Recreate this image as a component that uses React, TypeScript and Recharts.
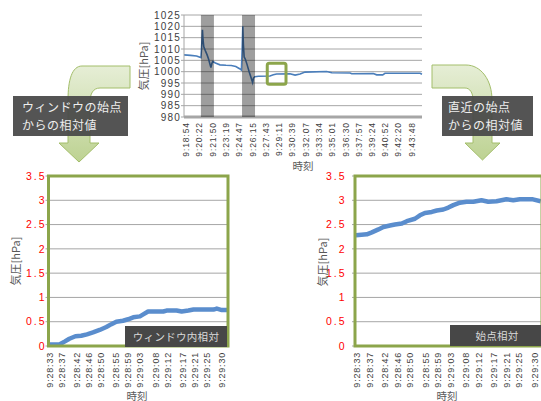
import React from 'react';
import { LineChart, Line, XAxis, YAxis, CartesianGrid, ReferenceArea } from 'recharts';

// ---------- Top chart (overall pressure record) ----------
const topBase = '9:18:54';
const topTickLabels = [
  '9:18:54', '9:20:22', '9:21:50', '9:23:19', '9:24:47', '9:26:15', '9:27:43', '9:29:11', '9:30:39',
  '9:32:07', '9:33:34', '9:35:01', '9:36:30', '9:37:57', '9:39:24', '9:40:52', '9:42:20', '9:43:48',
];
// seconds after 9:18:54
const topSeconds = [
  -13, 30, 70, 99, 103, 109, 113, 118, 128, 140, 150, 158, 165, 171, 177, 195, 225, 265, 300, 330,
  355, 367, 372, 376, 380, 385, 393, 405, 418, 430, 441, 447, 455, 480, 556, 578, 600, 688, 722, 755,
  788, 931, 965, 1086, 1097, 1240, 1262, 1302, 1317, 1549, 1562,
];
const topPressure = [
  1007.4, 1007.2, 1006.9, 1006.2, 1010, 1018.5, 1014, 1011, 1009.3, 1007.4, 1005.5, 1003.5, 1001.8,
  1003.5, 1004.5, 1003.8, 1003.0, 1002.8, 1002.7, 1002.3, 1001.3, 1000.7, 1010, 1020, 1012, 1006.5,
  1005.5, 1003, 1000, 997.5, 995.2, 997.2, 997.8, 998.0, 998.1, 998.6, 999.0, 999.1, 998.5, 999.0,
  999.8, 1000.1, 999.5, 999.4, 999.1, 999.2, 998.6, 998.6, 999.3, 999.3, 998.9,
];
const topYTicks = [980, 985, 990, 995, 1000, 1005, 1010, 1015, 1020, 1025];
// shaded intervals and highlighted window (seconds after 9:18:54 / hPa)
const bandStarts = [99, 371];
const bandEnds = [185, 457];
const windowBox = { x1: 538, x2: 662, y1: 994.4, y2: 1003.7 };

// ---------- Bottom charts (window 9:28:33 - 9:29:32) ----------
const winBase = '9:28:33';
const winTickLabels = [
  '9:28:33', '9:28:37', '9:28:42', '9:28:46', '9:28:50', '9:28:55', '9:28:59',
  '9:29:03', '9:29:08', '9:29:12', '9:29:17', '9:29:21', '9:29:25', '9:29:30',
];
const winLeftSeconds = [
  0, 3.3, 5.0, 6.6, 8.6, 10.5, 12.4, 14.4, 16.6, 18.8, 20.5, 22.1, 24.3, 26.0, 27.7, 29.9, 31.0,
  32.6, 35.4, 37.6, 38.7, 42.0, 43.7, 45.9, 47.6, 54.2, 55.3, 57.0, 58.8,
];
const winLeftValues = [
  0.03, 0.03, 0.09, 0.15, 0.2, 0.21, 0.24, 0.28, 0.33, 0.39, 0.45, 0.5, 0.52, 0.55, 0.59, 0.61, 0.65,
  0.71, 0.71, 0.71, 0.73, 0.73, 0.71, 0.73, 0.75, 0.75, 0.77, 0.74, 0.74,
];
const winRightSeconds = [
  -0.3, 3.2, 4.8, 6.9, 8.5, 10.6, 12.2, 14.4, 16.0, 18.6, 20.2, 21.8, 24.0, 25.6, 27.7, 29.3, 30.9,
  33.0, 35.1, 37.3, 39.9, 42.1, 44.7, 47.9, 50.1, 52.2, 56.4, 58.9,
];
const winRightValues = [
  2.28, 2.3, 2.34, 2.4, 2.45, 2.48, 2.5, 2.52, 2.57, 2.62, 2.69, 2.74, 2.76, 2.79, 2.81, 2.85, 2.9,
  2.95, 2.97, 2.97, 3.0, 2.97, 2.98, 3.02, 3.0, 3.02, 3.02, 2.98,
];
const relYTicks = [0, 0.5, 1, 1.5, 2, 2.5, 3, 3.5];

// ---------- helpers ----------
const toSec = (s: string) => {
  const [h, m, ss] = s.split(':').map(Number);
  return h * 3600 + m * 60 + ss;
};
const pad = (n: number) => (n < 10 ? '0' + n : '' + n);
const fmt = (sec: number) => {
  const v = Math.round(sec);
  const h = Math.floor(v / 3600);
  const m = Math.floor((v % 3600) / 60);
  const s = v % 60;
  return `${h}:${pad(m)}:${pad(s)}`;
};

const topBaseSec = toSec(topBase);
const winBaseSec = toSec(winBase);
const topXTicks = topTickLabels.map((l) => toSec(l) - topBaseSec);
const winXTicks = winTickLabels.map((l) => toSec(l) - winBaseSec);
const topData = topSeconds.map((t, i) => ({ t, p: topPressure[i] }));
const leftData = winLeftSeconds.map((t, i) => ({ t, v: winLeftValues[i] }));
const rightData = winRightSeconds.map((t, i) => ({ t, v: winRightValues[i] }));

const NUM_FONT = '"Liberation Sans", Arial, sans-serif';
const JP_FONT = '"Noto Sans CJK JP", "Noto Sans", sans-serif';
const GREEN = '#8CA54B';
const GRID = '#A6A6A6';

const makeRotTick = (baseSec: number, fontSize: number, ls: number) => (props: any) => {
  const { x, y, payload } = props;
  return (
    <text
      transform={`translate(${x},${y}) rotate(-90)`}
      textAnchor="end"
      dy="0.35em"
      fontSize={fontSize}
      letterSpacing={ls}
      fill="#404040"
      fontFamily={NUM_FONT}
    >
      {fmt(baseSec + payload.value)}
    </text>
  );
};

const makeYTick = (fontSize: number, ls: number, fill: string) => (props: any) => {
  const { x, y, payload } = props;
  return (
    <text x={x} y={y} textAnchor="end" dy="0.36em" fontSize={fontSize} letterSpacing={ls} fill={fill} fontFamily={NUM_FONT}>
      {payload.value}
    </text>
  );
};

const TopChart = () => (
  <LineChart width={300} height={180} data={topData} margin={{ top: 15, right: 8, bottom: 0, left: 0 }}>
    <CartesianGrid vertical={false} stroke={GRID} />
    <XAxis
      dataKey="t"
      type="number"
      domain={[-13, 1562]}
      ticks={topXTicks}
      interval={0}
      height={63}
      tickSize={3}
      tickMargin={2}
      tickLine={false}
      axisLine={{ stroke: GRID, strokeWidth: 3 }}
      tick={makeRotTick(topBaseSec, 8.5, 0.9)}
    />
    <YAxis
      type="number"
      domain={[980, 1025]}
      ticks={topYTicks}
      interval={0}
      width={54}
      tickSize={3}
      tickMargin={0}
      axisLine={{ stroke: GRID }}
      tickLine={{ stroke: GRID }}
      tick={makeYTick(10, 1.2, '#404040')}
    />
    <Line type="linear" dataKey="p" stroke="#4A7EBB" strokeWidth={1.6} dot={false} isAnimationActive={false} />
    {bandStarts.map((s, i) => (
      <ReferenceArea key={i} x1={s} x2={bandEnds[i]} y1={980} y2={1025} fill="#000000" fillOpacity={0.38} stroke="none" zIndex={600} />
    ))}
    <ReferenceArea
      x1={windowBox.x1}
      x2={windowBox.x2}
      y1={windowBox.y1}
      y2={windowBox.y2}
      fill="none"
      stroke={GREEN}
      strokeWidth={3}
      radius={2}
      zIndex={700}
    />
  </LineChart>
);

const WindowChart = ({
  data,
  width,
  right,
  yWidth,
  domain,
  tickMargin,
}: {
  data: { t: number; v: number }[];
  width: number;
  right: number;
  yWidth: number;
  domain: [number, number];
  tickMargin: number;
}) => (
  <LineChart width={width} height={236} data={data} margin={{ top: 11, right, bottom: 0, left: 0 }}>
    <CartesianGrid vertical={false} stroke={GRID} />
    <XAxis
      dataKey="t"
      type="number"
      domain={domain}
      ticks={winXTicks}
      interval={0}
      height={55}
      tickSize={3}
      tickMargin={3}
      tickLine={false}
      axisLine={{ stroke: GRID }}
      tick={makeRotTick(winBaseSec, 9, 0.8)}
    />
    <YAxis
      type="number"
      domain={[0, 3.5]}
      ticks={relYTicks}
      interval={0}
      width={yWidth}
      tickSize={3}
      tickMargin={tickMargin}
      axisLine={{ stroke: GRID }}
      tickLine={{ stroke: GRID }}
      tick={makeYTick(10.5, 2, '#FF0000')}
    />
    <Line
      type="linear"
      dataKey="v"
      stroke="#5A8DCD"
      strokeWidth={4.5}
      strokeLinejoin="round"
      dot={false}
      isAnimationActive={false}
    />
    <ReferenceArea x1={domain[0]} x2={domain[1]} y1={0} y2={3.5} fill="none" stroke={GREEN} strokeWidth={3} zIndex={700} />
  </LineChart>
);

const Overlay = () => (
  <svg width={541} height={401} style={{ position: 'absolute', left: 0, top: 0, pointerEvents: 'none' }}>
    <defs>
      <linearGradient id="arrowGrad" x1="0" y1="0" x2="0" y2="1">
        <stop offset="0%" stopColor="#E6EED6" />
        <stop offset="100%" stopColor="#BDD292" />
      </linearGradient>
    </defs>
    {/* left bent arrow */}
    <path
      d="M130,66 L82,66 C72,66 68,80 68,100 L68,143 L59,143 L79,162 L99,143 L90,143 L90,102 C90,94 93,88 100,88 L130,88 Z"
      fill="url(#arrowGrad)"
      stroke="#A3BE6A"
      strokeWidth={1}
    />
    {/* right bent arrow */}
    <path
      d="M432,65 L466,65 C481,65 492,80 492,100 L492,143 L500,143 L482.5,160 L465,143 L473,143 L473,100 C473,93 470,88 465,88 L432,88 Z"
      fill="url(#arrowGrad)"
      stroke="#A3BE6A"
      strokeWidth={1}
    />
    <rect x={13} y={96} width={115} height={40} fill="#474747" fillOpacity={0.93} />
    <text x={22} y={106.5} fontSize={12} letterSpacing={0.5} fill="#EEEEEE" fontFamily={JP_FONT} dominantBaseline="central">
      ウィンドウの始点
    </text>
    <text x={22} y={124.5} fontSize={12} letterSpacing={0.5} fill="#EEEEEE" fontFamily={JP_FONT} dominantBaseline="central">
      からの相対値
    </text>
    <rect x={442} y={96} width={91} height={40} fill="#474747" fillOpacity={0.93} />
    <text x={448} y={106.5} fontSize={12} letterSpacing={0.5} fill="#EEEEEE" fontFamily={JP_FONT} dominantBaseline="central">
      直近の始点
    </text>
    <text x={448} y={124.5} fontSize={12} letterSpacing={0.5} fill="#EEEEEE" fontFamily={JP_FONT} dominantBaseline="central">
      からの相対値
    </text>

    {/* axis titles */}
    <text transform="translate(143,66) rotate(-90)" textAnchor="middle" dominantBaseline="central" fontSize={11} fill="#595959" fontFamily={JP_FONT}>
      気圧[hPa]
    </text>
    <text x={303} y={165} textAnchor="middle" dominantBaseline="central" fontSize={10.5} fill="#595959" fontFamily={JP_FONT}>
      時刻
    </text>
    <text transform="translate(15,261) rotate(-90)" textAnchor="middle" dominantBaseline="central" fontSize={11} fill="#595959" fontFamily={JP_FONT}>
      気圧[hPa]
    </text>
    <text x={137} y={395} textAnchor="middle" dominantBaseline="central" fontSize={10.5} fill="#595959" fontFamily={JP_FONT}>
      時刻
    </text>
    <text transform="translate(322,262) rotate(-90)" textAnchor="middle" dominantBaseline="central" fontSize={11} fill="#595959" fontFamily={JP_FONT}>
      気圧[hPa]
    </text>
    <text x={447} y={395} textAnchor="middle" dominantBaseline="central" fontSize={10.5} fill="#595959" fontFamily={JP_FONT}>
      時刻
    </text>

    {/* in-chart tags */}
    <rect x={125} y={326} width={102} height={21} fill="#474747" />
    <text x={176} y={336.5} textAnchor="middle" dominantBaseline="central" fontSize={10.5} fill="#D9D9D9" fontFamily={JP_FONT} letterSpacing={0.3}>
      ウィンドウ内相対
    </text>
    <rect x={450} y={325} width={93} height={21} fill="#474747" />
    <text x={497} y={335.5} textAnchor="middle" dominantBaseline="central" fontSize={10.5} fill="#D9D9D9" fontFamily={JP_FONT} letterSpacing={0.3}>
      始点相対
    </text>
  </svg>
);

export default function App() {
  return (
    <div style={{ position: 'absolute', left: 0, top: 0, width: 541, height: 401, overflow: 'hidden', background: '#FFFFFF' }}>
      <div style={{ position: 'absolute', left: 130, top: 0 }}>
        <TopChart />
      </div>
      <div style={{ position: 'absolute', left: 0, top: 165 }}>
        <WindowChart data={leftData} width={240} right={12} yWidth={48.5} domain={[-0.3, 59]} tickMargin={-1} />
      </div>
      <div style={{ position: 'absolute', left: 300, top: 165 }}>
        <WindowChart data={rightData} width={260} right={18} yWidth={55} domain={[-0.6, 59.3]} tickMargin={5.5} />
      </div>
      <Overlay />
    </div>
  );
}
